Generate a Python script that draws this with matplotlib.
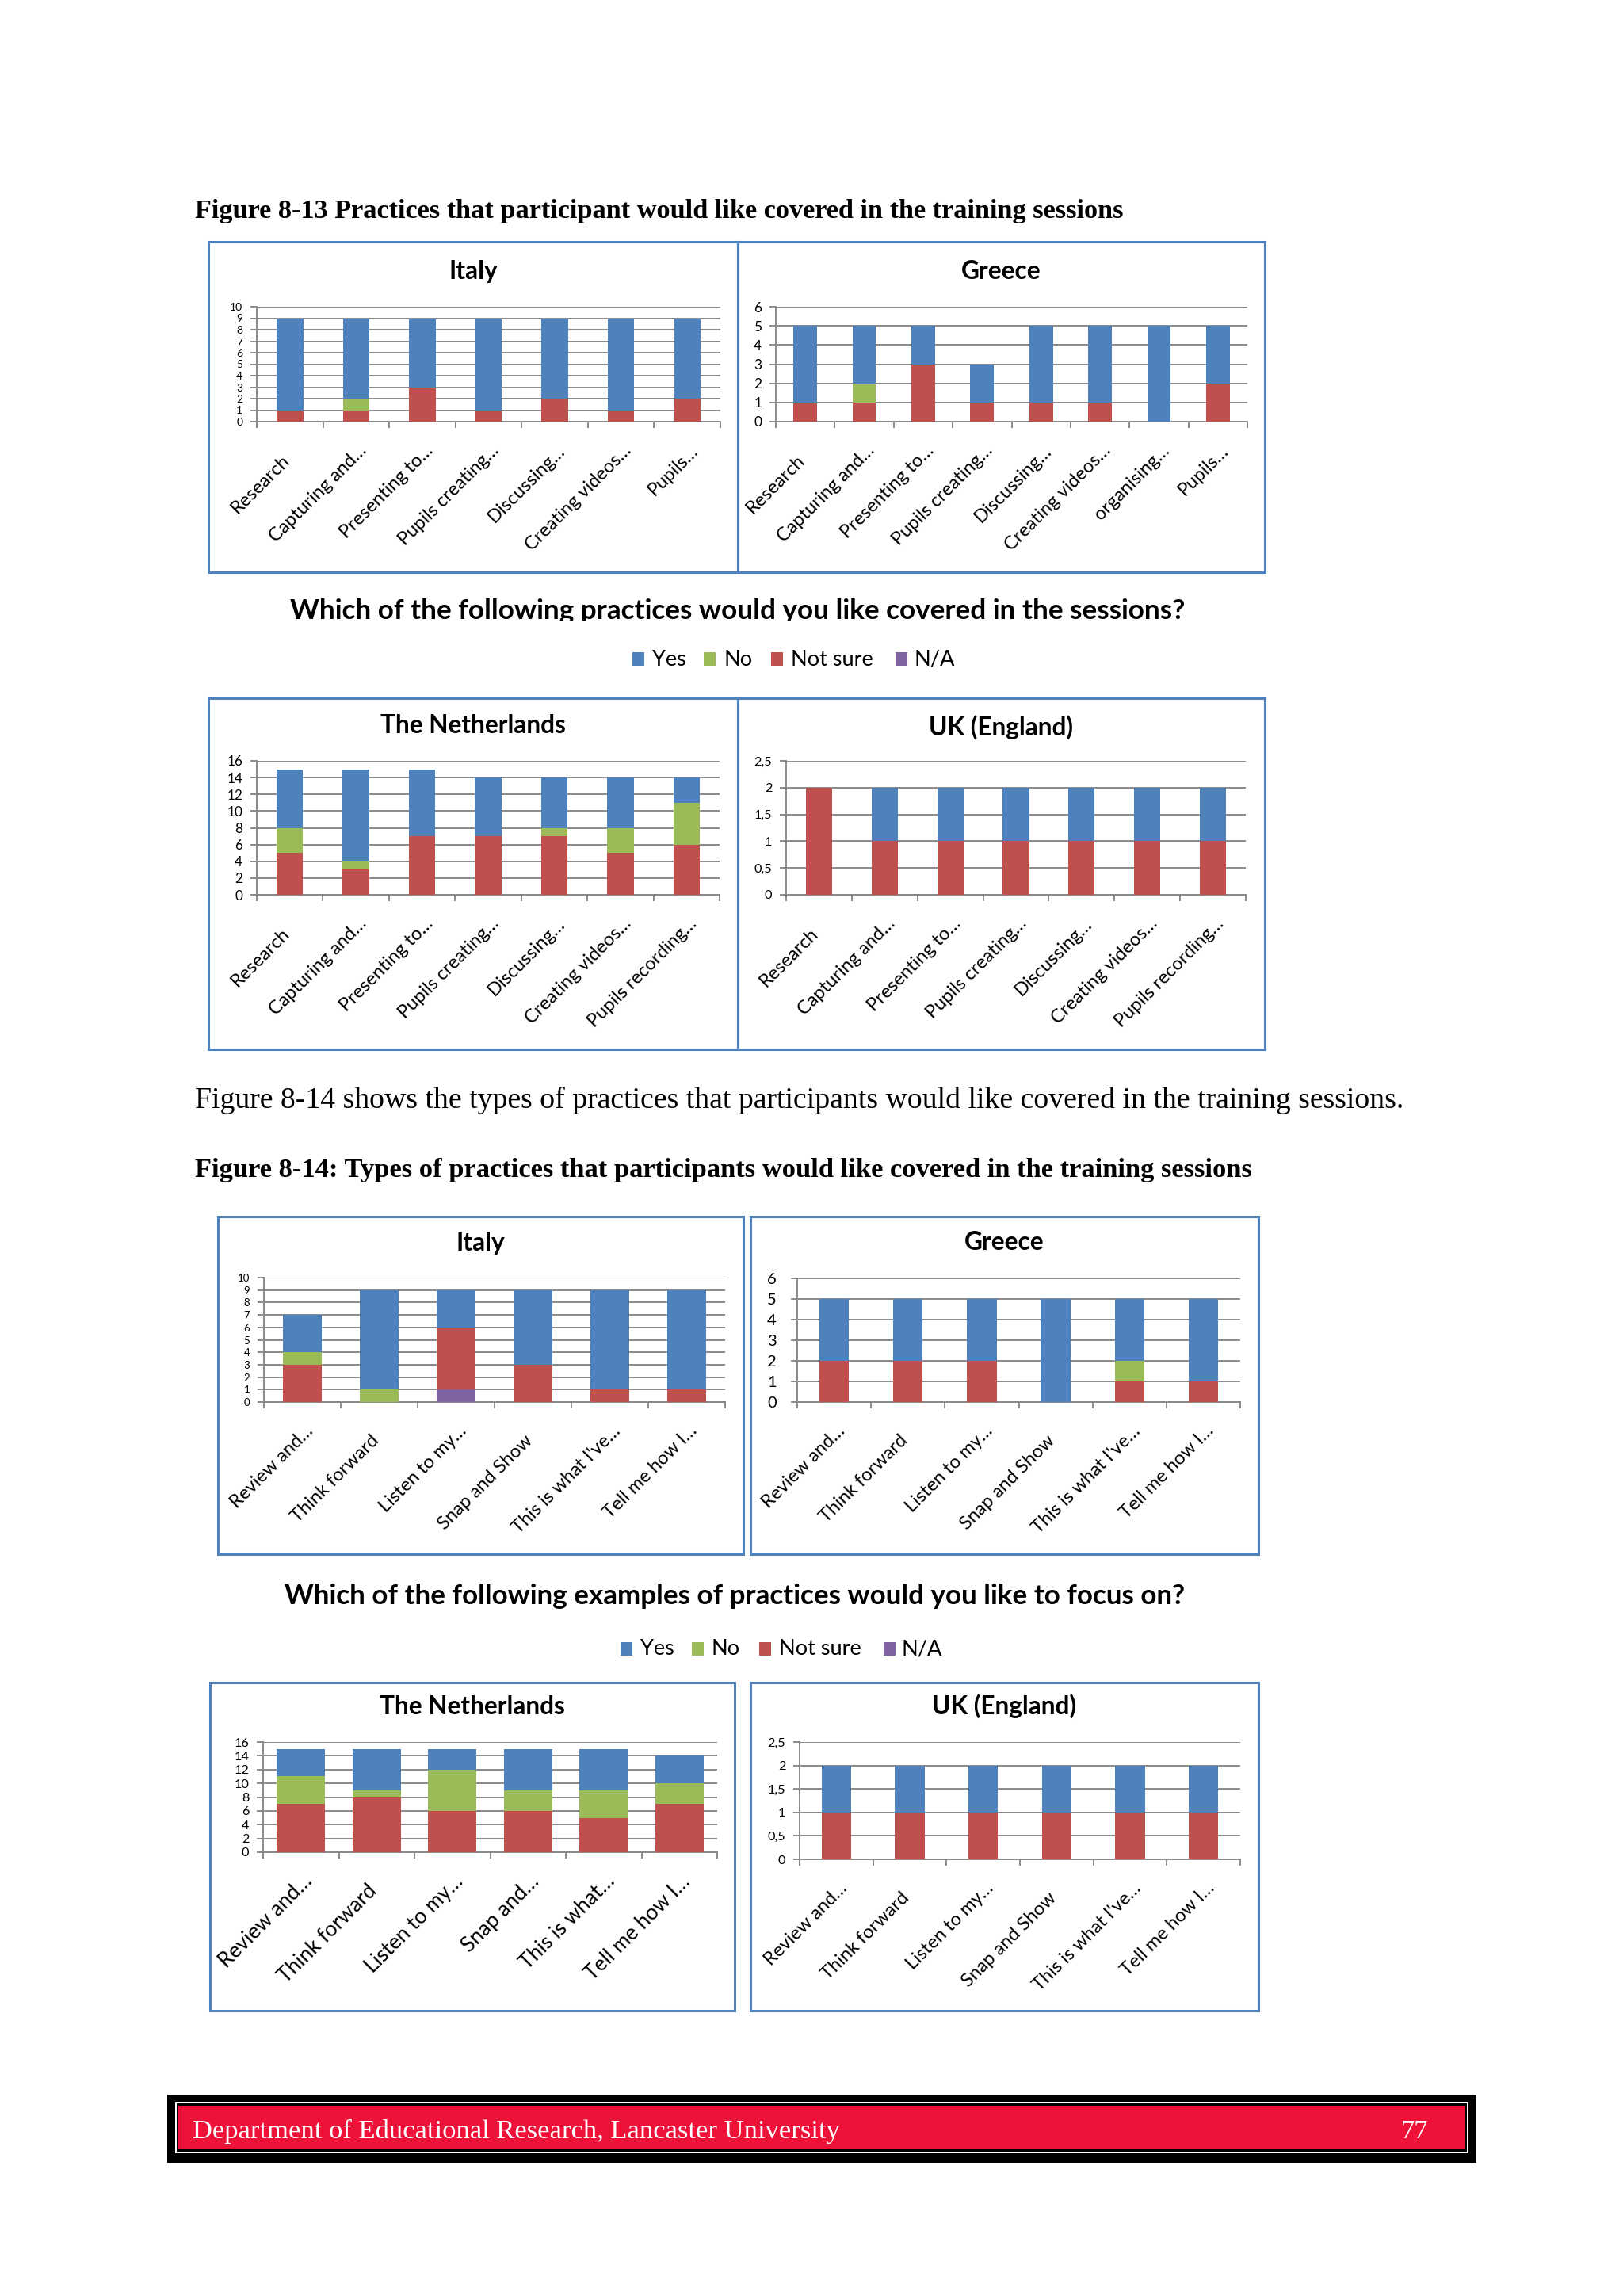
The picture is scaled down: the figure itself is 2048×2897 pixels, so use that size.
import numpy as np
import matplotlib
matplotlib.use("Agg")
import matplotlib.pyplot as plt
from matplotlib.patches import Rectangle

W, H = 2048, 2897

# ---------------- data ----------------
series_names = ["Yes", "No", "Not sure", "N/A"]
C_YES, C_NO, C_NS, C_NA = "#4F81BD", "#9BBB59", "#C0504D", "#8064A2"

# Figure 8-13
cats13_it = ["Research", "Capturing and…", "Presenting to…", "Pupils creating…",
             "Discussing…", "Creating videos…", "Pupils…"]
it13_yes = [8, 7, 6, 8, 7, 8, 7]
it13_no = [0, 1, 0, 0, 0, 0, 0]
it13_ns = [1, 1, 3, 1, 2, 1, 2]
it13_na = [0, 0, 0, 0, 0, 0, 0]

cats13_gr = ["Research", "Capturing and…", "Presenting to…", "Pupils creating…",
             "Discussing…", "Creating videos…", "organising…", "Pupils…"]
gr13_yes = [4, 3, 2, 2, 4, 4, 5, 3]
gr13_no = [0, 1, 0, 0, 0, 0, 0, 0]
gr13_ns = [1, 1, 3, 1, 1, 1, 0, 2]
gr13_na = [0, 0, 0, 0, 0, 0, 0, 0]

cats13_nl = ["Research", "Capturing and…", "Presenting to…", "Pupils creating…",
             "Discussing…", "Creating videos…", "Pupils recording…"]
nl13_yes = [7, 11, 8, 7, 6, 6, 3]
nl13_no = [3, 1, 0, 0, 1, 3, 5]
nl13_ns = [5, 3, 7, 7, 7, 5, 6]
nl13_na = [0, 0, 0, 0, 0, 0, 0]

cats13_uk = ["Research", "Capturing and…", "Presenting to…", "Pupils creating…",
             "Discussing…", "Creating videos…", "Pupils recording…"]
uk13_yes = [0, 1, 1, 1, 1, 1, 1]
uk13_no = [0, 0, 0, 0, 0, 0, 0]
uk13_ns = [2, 1, 1, 1, 1, 1, 1]
uk13_na = [0, 0, 0, 0, 0, 0, 0]

# Figure 8-14
cats14_it = ["Review and…", "Think forward", "Listen to my…", "Snap and Show",
             "This is what I've…", "Tell me how I…"]
it14_yes = [3, 8, 3, 6, 8, 8]
it14_no = [1, 1, 0, 0, 0, 0]
it14_ns = [3, 0, 5, 3, 1, 1]
it14_na = [0, 0, 1, 0, 0, 0]

cats14_gr = ["Review and…", "Think forward", "Listen to my…", "Snap and Show",
             "This is what I've…", "Tell me how I…"]
gr14_yes = [3, 3, 3, 5, 3, 4]
gr14_no = [0, 0, 0, 0, 1, 0]
gr14_ns = [2, 2, 2, 0, 1, 1]
gr14_na = [0, 0, 0, 0, 0, 0]

cats14_nl = ["Review and…", "Think forward", "Listen to my…", "Snap and…",
             "This is what…", "Tell me how I…"]
nl14_yes = [4, 6, 3, 6, 6, 4]
nl14_no = [4, 1, 6, 3, 4, 3]
nl14_ns = [7, 8, 6, 6, 5, 7]
nl14_na = [0, 0, 0, 0, 0, 0]

cats14_uk = ["Review and…", "Think forward", "Listen to my…", "Snap and Show",
             "This is what I've…", "Tell me how I…"]
uk14_yes = [1, 1, 1, 1, 1, 1]
uk14_no = [0, 0, 0, 0, 0, 0]
uk14_ns = [1, 1, 1, 1, 1, 1]
uk14_na = [0, 0, 0, 0, 0, 0]

# ---------------- style ----------------
SANS = ["Lato", "DejaVu Sans"]
SERIF = ["Liberation Serif", "DejaVu Serif"]
GRID = "#8A8A8A"
BORDER = "#4F81BD"
PX = 72.0 / 100.0  # points per pixel

fig = plt.figure(figsize=(W / 100, H / 100), dpi=100)
fig.patch.set_facecolor("white")


def fx(x):
    return x / W


def fy(y):
    return 1 - y / H


def frect(x0, y0, x1, y1, **kw):
    r = Rectangle((fx(x0), fy(y1)), (x1 - x0) / W, (y1 - y0) / H,
                  transform=fig.transFigure, **kw)
    fig.patches.append(r)
    return r


def chart(box, title, title_base, axr, cats, yes, no, ns, na, ymax, ystep,
          barw, yfs, xfs, ypad=7.0):
    bx0, by0, bx1, by1 = box
    frect(bx0, by0, bx1, by1, fill=False, ec=BORDER, lw=2.2, zorder=1)
    fig.text(fx((bx0 + bx1) / 2), fy(title_base), title, ha="center",
             va="baseline", fontsize=22.8, fontweight="bold", family=SANS)
    x0, y0, x1, y1 = axr
    ax = fig.add_axes([fx(x0), fy(y1), (x1 - x0) / W, (y1 - y0) / H])
    n = len(cats)
    xs = np.arange(n)
    bottom = np.zeros(n)
    for vals, col in [(na, C_NA), (ns, C_NS), (no, C_NO), (yes, C_YES)]:
        v = np.asarray(vals, dtype=float)
        ax.bar(xs, v, barw, bottom=bottom, color=col, lw=0, zorder=3)
        bottom = bottom + v
    ax.set_xlim(-0.5, n - 0.5)
    ax.set_ylim(0, ymax)
    yt = np.arange(0, ymax + ystep / 2, ystep)
    ax.set_yticks(yt)
    ax.set_yticklabels([f"{t:g}".replace(".", ",") for t in yt],
                       fontsize=yfs, family=SANS)
    ax.set_xticks(np.arange(n + 1) - 0.5)
    ax.set_xticklabels([])
    ax.tick_params(axis="x", length=8 * PX, width=1.4, color=GRID, direction="out")
    ax.tick_params(axis="y", length=8 * PX, width=1.4, color=GRID,
                   direction="out", pad=ypad)
    ax.grid(axis="y", color=GRID, lw=1.4)
    ax.set_axisbelow(True)
    for s in ["top", "right"]:
        ax.spines[s].set_visible(False)
    for s in ["left", "bottom"]:
        ax.spines[s].set_color(GRID)
        ax.spines[s].set_linewidth(1.4)
    for i, lab in enumerate(cats):
        if lab.endswith("…"):
            dx, dy = 10, -33
        else:
            dx, dy = -4, -45
        ax.annotate(lab, xy=(i, 0), xycoords=("data", "axes fraction"),
                    xytext=(dx * PX, dy * PX), textcoords="offset points",
                    rotation=45, ha="right", va="center",
                    rotation_mode="anchor", fontsize=xfs, family=SANS,
                    annotation_clip=False)
    return ax


def legend(yc, sq_x, tx_x):
    cols = [C_YES, C_NO, C_NS, C_NA]
    for name, c, sx, tx in zip(series_names, cols, sq_x, tx_x):
        frect(sx, yc - 9, sx + 15, yc + 8, color=c, lw=0, zorder=2)
        fig.text(fx(tx), fy(yc), name, ha="left", va="center",
                 fontsize=19.5, family=SANS)


# ---------------- page text ----------------
fig.text(fx(246), fy(275),
         "Figure 8-13 Practices that participant would like covered in the training sessions",
         fontsize=24.7, fontweight="bold", family=SERIF, va="baseline")
fig.text(fx(246), fy(1398),
         "Figure 8-14 shows the types of practices that participants would like covered in the training sessions.",
         fontsize=27.2, family=SERIF, va="baseline")
fig.text(fx(246), fy(1485),
         "Figure 8-14: Types of practices that participants would like covered in the training sessions",
         fontsize=24.8, fontweight="bold", family=SERIF, va="baseline")

# ---------------- Figure 8-13 ----------------
chart((263, 305, 931, 722), "Italy", 352, (324, 387, 909, 532),
      cats13_it, it13_yes, it13_no, it13_ns, it13_na, 10, 1, 0.4, 10, 17)
chart((931, 305, 1596, 722), "Greece", 352, (979, 387, 1574, 532),
      cats13_gr, gr13_yes, gr13_no, gr13_ns, gr13_na, 6, 1, 0.4, 12.5, 17)
fig.text(fx(931), fy(781),
         "Which of the following practices would you like covered in the sessions?",
         ha="center", va="baseline", fontsize=25.3, fontweight="bold", family=SANS)
frect(300, 783, 1560, 803, color="white", lw=0, zorder=5)
legend(832, [798, 888, 973, 1130], [823, 913, 998, 1153])
chart((263, 881, 931, 1324), "The Netherlands", 925, (324, 960, 908, 1129),
      cats13_nl, nl13_yes, nl13_no, nl13_ns, nl13_na, 16, 2, 0.4, 12.3, 17)
chart((931, 881, 1596, 1324), "UK (England)", 928, (992, 960, 1572, 1129),
      cats13_uk, uk13_yes, uk13_no, uk13_ns, uk13_na, 2.5, 0.5, 0.4, 11.7, 17)

# ---------------- Figure 8-14 ----------------
chart((275, 1535, 938, 1961), "Italy", 1578, (333, 1612, 915, 1769),
      cats14_it, it14_yes, it14_no, it14_ns, it14_na, 10, 1, 0.5, 9.5, 17)
chart((947, 1535, 1588, 1961), "Greece", 1577, (1006, 1613, 1565, 1769),
      cats14_gr, gr14_yes, gr14_no, gr14_ns, gr14_na, 6, 1, 0.4, 14.5, 17,
      ypad=13)
fig.text(fx(927), fy(2024),
         "Which of the following examples of practices would you like to focus on?",
         ha="center", va="baseline", fontsize=25.2, fontweight="bold", family=SANS)
legend(2081, [783, 873, 958, 1115], [808, 898, 983, 1138])
chart((265, 2123, 927, 2537), "The Netherlands", 2163, (332, 2198, 905, 2337),
      cats14_nl, nl14_yes, nl14_no, nl14_ns, nl14_na, 16, 2, 0.64, 11.7, 19)
chart((947, 2123, 1588, 2537), "UK (England)", 2163, (1009, 2198, 1565, 2346),
      cats14_uk, uk14_yes, uk14_no, uk14_ns, uk14_na, 2.5, 0.5, 0.4, 11.7, 17)

# ---------------- footer ----------------
frect(211, 2643, 1863, 2729, color="black", lw=0, zorder=1)
frect(221, 2652, 1853, 2717, color="white", lw=0, zorder=1.1)
frect(223, 2654, 1851, 2715, color="black", lw=0, zorder=1.2)
frect(225, 2657, 1849, 2712, color="#EF1238", lw=0, zorder=1.3)
fig.text(fx(243), fy(2698), "Department of Educational Research, Lancaster University",
         color="white", fontsize=24.8, family=SERIF, va="baseline", zorder=6)
fig.text(fx(1802), fy(2698), "77", color="white", fontsize=24.8, family=SERIF,
         va="baseline", ha="right", zorder=6)

fig.savefig("out.png", dpi=100, facecolor="white")
